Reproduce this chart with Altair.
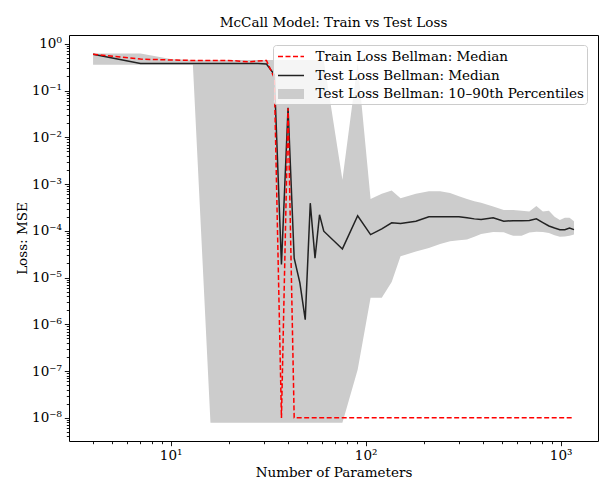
import altair as alt
import pandas as pd

# ---------------- data ----------------
params = [4, 7, 10, 13, 16, 19, 22, 25, 28, 31, 34, 37, 40, 43, 46, 49, 52, 55, 58, 61,
          76, 91, 106, 121, 136, 151, 181, 211, 241, 271, 301, 331, 361, 391, 451, 511,
          571, 631, 691, 751, 811, 871, 931, 991, 1051, 1111, 1171]

train_median = [0.60, 0.47, 0.45, 0.44, 0.44, 0.44, 0.43, 0.41, 0.43, 0.44, 0.185, 1e-8,
                0.042, 1e-8, 1e-8, 1e-8, 1e-8, 1e-8, 1e-8, 1e-8, 1e-8, 1e-8, 1e-8, 1e-8,
                1e-8, 1e-8, 1e-8, 1e-8, 1e-8, 1e-8, 1e-8, 1e-8, 1e-8, 1e-8, 1e-8, 1e-8,
                1e-8, 1e-8, 1e-8, 1e-8, 1e-8, 1e-8, 1e-8, 1e-8, 1e-8, 1e-8, 1e-8]

test_median = [0.60, 0.38, 0.38, 0.38, 0.38, 0.38, 0.38, 0.38, 0.38, 0.37, 0.22, 1.9e-5,
               0.043, 2.6e-5, 7.7e-6, 1.26e-6, 3.9e-4, 2.6e-5, 2.2e-4, 9.8e-5, 4.1e-5,
               2.1e-4, 8.3e-5, 1.1e-4, 1.48e-4, 1.43e-4, 1.6e-4, 2.0e-4, 2.0e-4, 2.0e-4,
               2.0e-4, 1.9e-4, 1.8e-4, 1.75e-4, 1.9e-4, 1.6e-4, 1.65e-4, 1.65e-4, 1.66e-4,
               1.8e-4, 1.5e-4, 1.27e-4, 1.15e-4, 1.06e-4, 1.06e-4, 1.15e-4, 1.06e-4]

test_p10 = [0.355, 0.355, 0.355, 0.355, 7.9e-9, 7.9e-9, 7.9e-9, 7.9e-9, 7.9e-9, 7.9e-9,
            7.9e-9, 7.9e-9, 7.9e-9, 7.9e-9, 7.9e-9, 7.9e-9, 7.9e-9, 7.9e-9, 7.9e-9, 7.9e-9,
            7.9e-9, 1.07e-7, 3.7e-6, 3.7e-6, 8e-6, 2.85e-5, 3.6e-5, 4.3e-5, 5.2e-5, 6e-5,
            6.3e-5, 6.5e-5, 7.5e-5, 8.5e-5, 9.4e-5, 9.3e-5, 7.8e-5, 7.8e-5, 9.2e-5, 9.5e-5,
            9.4e-5, 9.0e-5, 8.0e-5, 7.5e-5, 7.6e-5, 7.8e-5, 8.3e-5]

test_p90 = [0.62, 0.62, 0.47, 0.45, 0.45, 0.45, 0.45, 0.45, 0.45, 0.45, 0.45, 0.45,
            0.45, 0.45, 0.45, 0.45, 0.45, 0.45, 0.45, 0.45, 1.24e-3, 0.39, 4.8e-4, 6.2e-4,
            7.3e-4, 5.0e-4, 6.2e-4, 7.0e-4, 7.0e-4, 6.4e-4, 5.5e-4, 4.8e-4, 4.3e-4, 4.0e-4,
            3.3e-4, 2.8e-4, 2.8e-4, 2.7e-4, 2.6e-4, 3.4e-4, 2.6e-4, 2.7e-4, 2.0e-4, 1.7e-4,
            1.9e-4, 1.9e-4, 1.6e-4]

TRAIN = "Train Loss Bellman: Median"
TEST = "Test Loss Bellman: Median"
BAND = "Test Loss Bellman: 10–90th Percentiles"

x_domain = [3.01, 1555]
y_domain = [3.2e-9, 1.54]

# ---------------- tables ----------------
n = len(params)
train_df = pd.DataFrame({"params": params, "loss": train_median, "series": [TRAIN] * n})
test_df = pd.DataFrame({"params": params, "loss": test_median, "series": [TEST] * n})
band_df = pd.DataFrame({"params": params, "lo": test_p10, "hi": test_p90, "series": [BAND] * n})

FONT = "DejaVu Serif"
FS = 13.5
DASH = [5, 2.5]

x_ticks = [10.0, 100.0, 1000.0] + [
    k * 10.0 ** e for e in range(0, 4) for k in range(2, 10)
    if x_domain[0] <= k * 10.0 ** e <= x_domain[1]
]
y_ticks = [10.0 ** e for e in range(-8, 1)] + [
    k * 10.0 ** e for e in range(-9, 1) for k in range(2, 10)
    if y_domain[0] <= k * 10.0 ** e <= y_domain[1]
]

EXP = "round(log(datum.value)/LN10)"
MAJOR = f"abs(log(datum.value)/LN10 - {EXP}) < 0.001"
LABEL = (f"{MAJOR} ? '10' + ({EXP} < 0 ? '⁻' : '') + "
         f"substring('⁰¹²³⁴⁵⁶⁷⁸⁹', abs({EXP}), abs({EXP}) + 1) : ''")


def make_axis(title, values, title_pad):
    return alt.Axis(
        title=title, values=values, labelExpr=LABEL, grid=False, domain=False,
        labelOverlap=False, labelFlush=False,
        tickColor="black", tickWidth=0.9,
        tickSize={"condition": {"test": MAJOR, "value": 4.7}, "value": 2.7},
        labelFont=FONT, labelFontSize=FS, labelColor="black", labelPadding=3,
        titleFont=FONT, titleFontSize=FS, titleFontWeight="normal", titleColor="black",
        titlePadding=title_pad,
    )


x_enc = alt.X("params:Q", scale=alt.Scale(type="log", domain=x_domain, nice=False),
              axis=make_axis("Number of Parameters", x_ticks, 3))
y_scale = alt.Scale(type="log", domain=y_domain, nice=False)
y_axis = make_axis("Loss: MSE", y_ticks, 2)

LINE_SYM = "M-1.733,0H1.733"
PATCH_SYM = "M-1.733,-0.667H1.733V0.667H-1.733Z"
LEG_X = 204
LEG_Y = 10

common_legend = dict(
    orient="none", legendX=LEG_X, padding=3,
    symbolSize=225, symbolOffset=6.5, labelOffset=16,
    labelFont=FONT, labelFontSize=FS, labelColor="black", labelLimit=500,
    symbolStrokeWidth=1.5, symbolOpacity=1,
)

band_legend = alt.Legend(
    title=" ", titleFontSize=FS, titlePadding=24, titleFont=FONT,
    legendY=LEG_Y, symbolType=PATCH_SYM, symbolFillColor="#cccccc",
    fillColor="rgba(255,255,255,0.8)", strokeColor="#cccccc", cornerRadius=3,
    **common_legend)
train_legend = alt.Legend(
    title=None, legendY=LEG_Y, symbolType=LINE_SYM, symbolStrokeColor="red",
    symbolDash=DASH, **common_legend)
test_legend = alt.Legend(
    title=None, legendY=LEG_Y + 19, symbolType=LINE_SYM, symbolStrokeColor="#222222",
    **common_legend)

band = alt.Chart(band_df).mark_area(opacity=1).encode(
    x=x_enc, y=alt.Y("lo:Q", scale=y_scale, axis=y_axis), y2="hi:Q",
    color=alt.Color("series:N", scale=alt.Scale(domain=[BAND], range=["#cccccc"]),
                    legend=band_legend))

test = alt.Chart(test_df).mark_line(strokeWidth=1.5).encode(
    x=x_enc, y=alt.Y("loss:Q", scale=y_scale, axis=y_axis),
    color=alt.Color("series:N", scale=alt.Scale(domain=[TEST], range=["#222222"]),
                    legend=test_legend))

train = alt.Chart(train_df).mark_line(strokeWidth=1.5, strokeDash=DASH).encode(
    x=x_enc, y=alt.Y("loss:Q", scale=y_scale, axis=y_axis),
    color=alt.Color("series:N", scale=alt.Scale(domain=[TRAIN], range=["red"]),
                    legend=train_legend))

chart = alt.layer(band, test, train).resolve_scale(color="independent").properties(
    width=529, height=406,
    title=alt.TitleParams("McCall Model: Train vs Test Loss", font=FONT, fontSize=FS,
                          fontWeight="normal", color="black", anchor="middle", offset=6),
    autosize=alt.AutoSizeParams(type="none"),
    padding={"left": 69, "top": 35, "right": 9, "bottom": 54},
).configure(background="white").configure_view(stroke="black", strokeWidth=1)

chart.save("out.html", embed_options={"renderer": "svg", "actions": False})
